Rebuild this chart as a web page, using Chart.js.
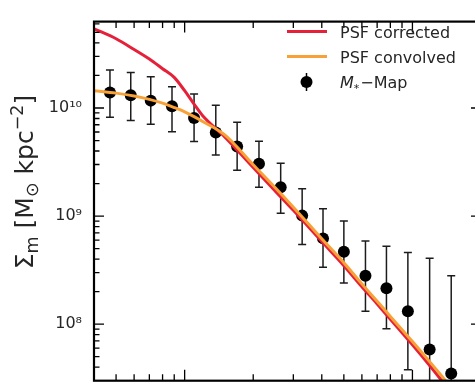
<!DOCTYPE html>
<html><head><meta charset="utf-8">
<style>
html,body{margin:0;padding:0;overflow:hidden;background:#fff;width:475px;height:383px}
#wrap{position:absolute;left:0;top:0;width:490px;height:425px}
</style>
<script src="https://cdn.jsdelivr.net/npm/chart.js@4/dist/chart.umd.min.js"></script>
</head><body>
<div id="wrap"><canvas id="c" width="490" height="425"></canvas></div>
<script>
// ---- data ----
const radius = [0.47, 0.58, 0.71, 0.88, 1.10, 1.37, 1.70, 2.12, 2.64, 3.28, 4.05, 5.00, 6.22, 7.69, 9.55, 11.9, 14.8];
const sigmaMap = [1.39e10, 1.31e10, 1.17e10, 1.04e10, 8.07e9, 5.93e9, 4.41e9, 3.05e9, 1.85e9, 1.01e9, 6.22e8, 4.67e8, 2.80e8, 2.15e8, 1.32e8, 5.83e7, 3.5e7];
const sigmaHi = [2.25e10, 2.13e10, 1.95e10, 1.57e10, 1.35e10, 1.06e10, 7.4e9, 4.92e9, 3.09e9, 1.79e9, 1.17e9, 9.0e8, 5.87e8, 5.27e8, 4.61e8, 4.08e8, 2.8e8];
const sigmaLo = [8.2e9, 7.66e9, 7.06e9, 6.03e9, 4.89e9, 3.67e9, 2.66e9, 1.85e9, 1.06e9, 5.47e8, 3.37e8, 2.4e8, 1.32e8, 9.08e7, 3.78e7, 1e7, 1e7];

const curveR = [0.4, 0.5, 0.6, 0.7, 0.8, 0.9, 1.0, 1.1, 1.2, 1.5, 2, 2.5, 3, 4, 5, 6, 7, 8, 10, 12, 14];
const psfCorrected = [5.41e10, 4.37e10, 3.48e10, 2.84e10, 2.31e10, 1.92e10, 1.445e10, 1.085e10, 8.49e9, 5.41e9, 2.81e9, 1.70e9, 1.13e9, 5.81e8, 3.48e8, 2.22e8, 1.54e8, 1.11e8, 6.44e7, 4.06e7, 2.70e7];
const psfConvolved = [1.445e10, 1.373e10, 1.291e10, 1.202e10, 1.108e10, 1.01e10, 9.21e9, 8.32e9, 7.51e9, 5.64e9, 2.99e9, 1.83e9, 1.21e9, 6.18e8, 3.71e8, 2.36e8, 1.63e8, 1.18e8, 6.92e7, 4.41e7, 2.99e7];

const seriesLabels = ['PSF corrected', 'PSF convolved', 'M*\u2212Map'];

const xMajor = [1, 10];
const xTickLabels = ['10\u2070', '10\u00b9'];
const xMinor = [0.5, 0.6, 0.7, 0.8, 0.9, 2, 3, 4, 5, 6, 7, 8, 9, 20];
const yMajor = [1e8, 1e9, 1e10];
const yTickLabels = ['10\u2078', '10\u2079', '10\u00b9\u2070'];
const yMinor = [4e7, 5e7, 6e7, 7e7, 8e7, 9e7, 2e8, 3e8, 4e8, 5e8, 6e8, 7e8, 8e8, 9e8,
                2e9, 3e9, 4e9, 5e9, 6e9, 7e9, 8e9, 9e9, 2e10, 3e10, 4e10, 5e10, 6e10];

// ---- styling ----
const W = 490, H = 425;
const FAM = "'DejaVu Sans', sans-serif";
const RED = '#e5213a', ORANGE = '#f8a136', TXT = '#262626';

const errorBars = {
  id: 'errorBars',
  beforeDatasetsDraw(chart) {
    const {ctx, chartArea: ca, scales: {x, y}} = chart;
    ctx.save();
    ctx.beginPath(); ctx.rect(ca.left, ca.top, ca.width, ca.height); ctx.clip();
    ctx.strokeStyle = '#1c1c1c'; ctx.lineWidth = 1.5;
    ctx.beginPath();
    for (let i = 0; i < radius.length; i++) {
      const px = x.getPixelForValue(radius[i]);
      const y1 = y.getPixelForValue(sigmaHi[i]);
      const y2 = y.getPixelForValue(sigmaLo[i]);
      ctx.moveTo(px, y1); ctx.lineTo(px, y2);
      ctx.moveTo(px - 4, y1); ctx.lineTo(px + 4, y1);
      ctx.moveTo(px - 4, y2); ctx.lineTo(px + 4, y2);
    }
    ctx.stroke();
    ctx.restore();
  }
};

const frame = {
  id: 'frame',
  afterDraw(chart) {
    const {ctx, chartArea: ca, scales: {x, y}} = chart;
    ctx.save();
    ctx.strokeStyle = '#000';
    ctx.lineWidth = 1.3;
    ctx.beginPath();
    const tickX = (vals, len) => vals.forEach(v => {
      const p = x.getPixelForValue(v);
      ctx.moveTo(p, ca.bottom); ctx.lineTo(p, ca.bottom - len);
      ctx.moveTo(p, ca.top); ctx.lineTo(p, ca.top + len);
    });
    const tickY = (vals, len) => vals.forEach(v => {
      const p = y.getPixelForValue(v);
      ctx.moveTo(ca.left, p); ctx.lineTo(ca.left + len, p);
      ctx.moveTo(ca.right, p); ctx.lineTo(ca.right - len, p);
    });
    tickX(xMajor, 11); tickX(xMinor, 6.5);
    tickY(yMajor, 10); tickY(yMinor, 5.5);
    ctx.stroke();
    ctx.lineWidth = 2.2;
    ctx.strokeRect(ca.left, ca.top, ca.width, ca.height);
    ctx.restore();
  }
};

const legendBox = {
  id: 'legendBox',
  afterDraw(chart) {
    const ctx = chart.ctx;
    ctx.save();
    ctx.lineWidth = 3;
    ctx.strokeStyle = RED;
    ctx.beginPath(); ctx.moveTo(287, 31.5); ctx.lineTo(327, 31.5); ctx.stroke();
    ctx.strokeStyle = ORANGE;
    ctx.beginPath(); ctx.moveTo(287, 56.5); ctx.lineTo(327, 56.5); ctx.stroke();
    ctx.strokeStyle = '#000'; ctx.lineWidth = 1.5;
    ctx.beginPath(); ctx.moveTo(306.5, 73); ctx.lineTo(306.5, 91); ctx.stroke();
    ctx.fillStyle = '#000';
    ctx.beginPath(); ctx.arc(306.5, 82, 6, 0, Math.PI * 2); ctx.fill();

    ctx.fillStyle = TXT;
    ctx.textBaseline = 'alphabetic';
    ctx.font = `16px ${FAM}`;
    ctx.fillText(seriesLabels[0], 340, 37.5);
    ctx.fillText(seriesLabels[1], 340, 62.5);
    // M_* − Map
    let xx = 340;
    ctx.font = `italic 16px ${FAM}`;
    ctx.fillText('M', xx, 88); xx += ctx.measureText('M').width;
    ctx.font = `11px ${FAM}`;
    ctx.fillText('*', xx, 92); xx += ctx.measureText('*').width + 1;
    ctx.font = `16px ${FAM}`;
    ctx.fillText('\u2212Map', xx, 88);
    ctx.restore();
  }
};

const yTitle = {
  id: 'yTitle',
  afterDraw(chart) {
    const ctx = chart.ctx;
    const S = 25;
    const parts = [
      {t: '\u03a3', s: S, dy: 0},
      {t: 'm', s: S * 0.7, dy: 0.2 * S},
      {t: ' [M', s: S, dy: 0},
      {t: '\u2299', s: S * 0.7, dy: 0.2 * S},
      {t: ' kpc', s: S, dy: 0},
      {t: '\u22122', s: S * 0.7, dy: -0.42 * S},
      {t: ']', s: S, dy: 0}
    ];
    ctx.save();
    let total = 0;
    parts.forEach(p => { ctx.font = `${p.s}px ${FAM}`; p.w = ctx.measureText(p.t).width; total += p.w; });
    ctx.translate(33, 182);
    ctx.rotate(-Math.PI / 2);
    ctx.fillStyle = TXT;
    ctx.textBaseline = 'alphabetic';
    let xx = -total / 2;
    parts.forEach(p => { ctx.font = `${p.s}px ${FAM}`; ctx.fillText(p.t, xx, p.dy); xx += p.w; });
    ctx.restore();
  }
};

const ctx = document.getElementById('c').getContext('2d');
new Chart(ctx, {
  data: {
    datasets: [
      {type: 'line', label: seriesLabels[1], data: curveR.map((r, i) => ({x: r, y: psfConvolved[i]})),
       borderColor: ORANGE, borderWidth: 3, pointRadius: 0, cubicInterpolationMode: 'monotone', order: 1},
      {type: 'line', label: seriesLabels[0], data: curveR.map((r, i) => ({x: r, y: psfCorrected[i]})),
       borderColor: RED, borderWidth: 3, pointRadius: 0, cubicInterpolationMode: 'monotone', order: 2},
      {type: 'scatter', label: seriesLabels[2], data: radius.map((r, i) => ({x: r, y: sigmaMap[i]})),
       pointRadius: 6, pointBackgroundColor: '#000', pointBorderWidth: 0, backgroundColor: '#000', order: 3}
    ]
  },
  options: {
    responsive: false, animation: false, devicePixelRatio: 1,
    layout: {padding: {top: 7, right: 9, left: 0, bottom: 0}},
    plugins: {legend: {display: false}, tooltip: {enabled: false}},
    scales: {
      x: {
        type: 'logarithmic', min: 0.4, max: 20,
        grid: {display: false, drawTicks: false}, border: {display: false},
        afterBuildTicks: s => { s.ticks = xMajor.map(v => ({value: v})); },
        ticks: {callback: (v, i) => xTickLabels[i], font: {family: FAM, size: 16}, color: TXT,
                padding: 10, maxRotation: 0, autoSkip: false},
        afterFit: s => { s.height = H - 380.7; }
      },
      y: {
        type: 'logarithmic', min: 3e7, max: 6.3e10,
        grid: {display: false, drawTicks: false}, border: {display: false},
        afterBuildTicks: s => { s.ticks = yMajor.map(v => ({value: v})); },
        ticks: {callback: (v, i) => yTickLabels[i], font: {family: FAM, size: 16}, color: TXT,
                padding: 12, autoSkip: false},
        afterFit: s => { s.width = 94; }
      }
    }
  },
  plugins: [errorBars, frame, legendBox, yTitle]
});
</script>
</body></html>
